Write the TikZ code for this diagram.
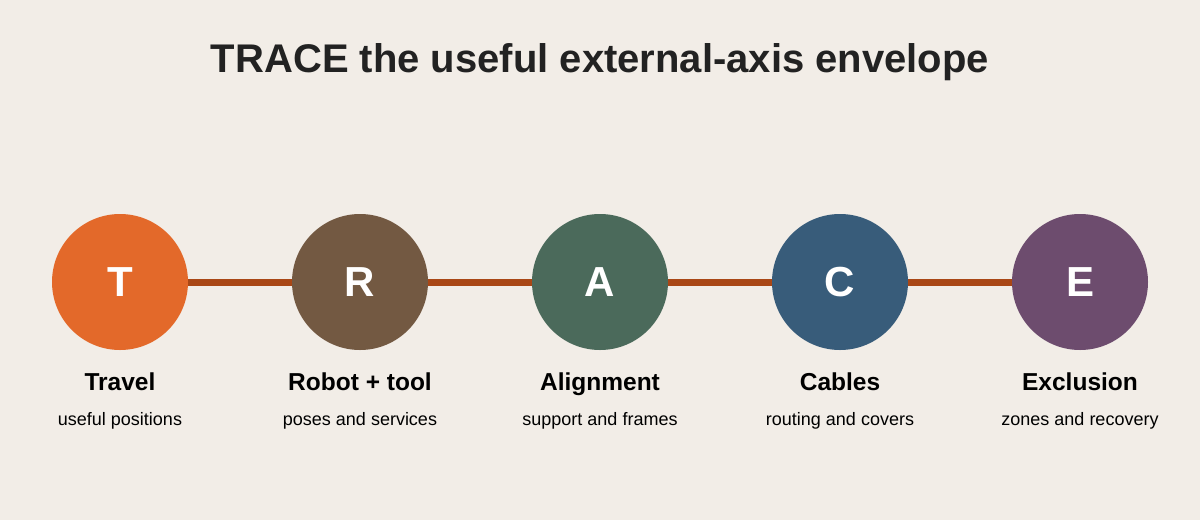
\documentclass[tikz,border=0pt]{standalone}
\usepackage{fontspec}
\setmainfont{Liberation Sans}
\usepackage{xcolor}
\usetikzlibrary{positioning,calc}

\definecolor{bgcream}{HTML}{F2EDE7}
\definecolor{rust}{HTML}{A94716}
\definecolor{travelc}{HTML}{E3692A}
\definecolor{robotc}{HTML}{735942}
\definecolor{alignc}{HTML}{4B6A5B}
\definecolor{cablec}{HTML}{385C7A}
\definecolor{exclc}{HTML}{6D4C6E}
\definecolor{inkc}{HTML}{222222}

\begin{document}
\begin{tikzpicture}[
    x=1pt, y=-1pt,
    node distance=104pt,
    stage/.style={circle, minimum size=136pt, inner sep=0pt, outer sep=0pt, text=white, font=\fontsize{42}{46}\selectfont\bfseries},
    link/.style={draw=rust, line width=7pt},
    head/.style={anchor=base, font=\fontsize{24.5}{28}\selectfont\bfseries},
    sub/.style={anchor=base, font=\fontsize{18}{21}\selectfont},
  ]
    % Canvas
    \fill[bgcream] (0,0) rectangle (1200,520);
    \useasboundingbox (0,0) rectangle (1200,520);
    % Title
    \node[anchor=base, text=inkc, font=\fontsize{40}{44}\selectfont\bfseries] (title) at (600,72) {TRACE the useful external-axis envelope};
    % Stages
    \node[stage, fill=travelc] (t) at (120,282) {T};
    \node[stage, fill=robotc, right=of t] (r) {R};
    \node[stage, fill=alignc, right=of r] (a) {A};
    \node[stage, fill=cablec, right=of a] (c) {C};
    \node[stage, fill=exclc, right=of c] (e) {E};
    % Links
    \draw[link] (t) -- (r);
    \draw[link] (r) -- (a);
    \draw[link] (a) -- (c);
    \draw[link] (c) -- (e);
    % Labels
    \node[head] (thead) at ($(t)+(0,108)$) {Travel};
    \node[head] (rhead) at ($(r)+(0,108)$) {Robot + tool};
    \node[head] (ahead) at ($(a)+(0,108)$) {Alignment};
    \node[head] (chead) at ($(c)+(0,108)$) {Cables};
    \node[head] (ehead) at ($(e)+(0,108)$) {Exclusion};
    \node[sub] (tsub) at ($(t)+(0,143)$) {useful positions};
    \node[sub] (rsub) at ($(r)+(0,143)$) {poses and services};
    \node[sub] (asub) at ($(a)+(0,143)$) {support and frames};
    \node[sub] (csub) at ($(c)+(0,143)$) {routing and covers};
    \node[sub] (esub) at ($(e)+(0,143)$) {zones and recovery};
  \end{tikzpicture}
\end{document}
